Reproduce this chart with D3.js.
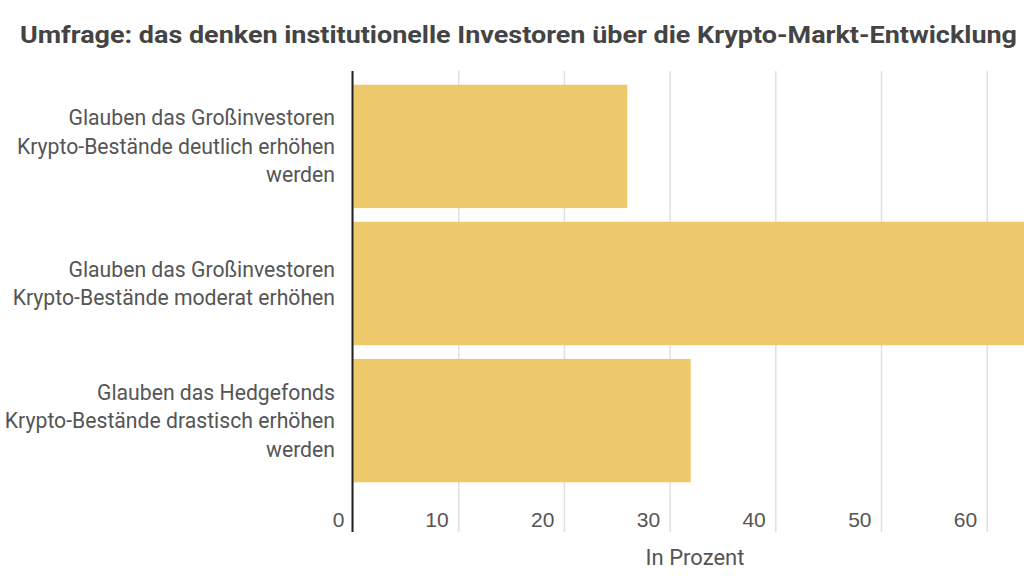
<!DOCTYPE html>
<html lang="de">
<head>
  <meta charset="UTF-8" />
  <title>Umfrage Krypto-Markt-Entwicklung</title>
  <script src="https://d3js.org/d3.v7.min.js"></script>
  <style>
    html, body {
      margin: 0;
      padding: 0;
      background: #fff;
      overflow: hidden;
    }
    svg {
      display: block;
      font-family: Roboto, "Noto Sans", sans-serif;
    }
    .title {
      font-size: 23.5px;
      font-weight: 700;
      fill: #444;
    }
    .cat-label {
      font-size: 21.2px;
      fill: #555;
    }
    .x-axis text {
      font-size: 21px;
      fill: #555;
    }
    .x-axis line {
      stroke: #e0e0e0;
      stroke-width: 1.5;
    }
    .axis-title {
      font-size: 22px;
      fill: #555;
    }
    .bar {
      fill: #edc96b;
    }
  </style>
</head>
<body>
  <svg width="1024" height="576"></svg>

  <script>
    // data
    const categories = [
      "Glauben das Großinvestoren\nKrypto-Bestände deutlich erhöhen\nwerden",
      "Glauben das Großinvestoren\nKrypto-Bestände moderat erhöhen",
      "Glauben das Hedgefonds\nKrypto-Bestände drastisch erhöhen\nwerden"
    ];
    const values = [26, 66, 32];
    const xTicks = [0, 10, 20, 30, 40, 50, 60];
    const titleText = "Umfrage: das denken institutionelle Investoren über die Krypto-Markt-Entwicklung";
    const xAxisTitle = "In Prozent";

    const svg = d3.select("svg");
    const plotTop = 71, plotBottom = 532, bandBottom = 496;
    const x0 = 352.5, pxPerUnit = 10.57;

    const x = d3.scaleLinear()
      .domain([0, 70])
      .range([x0, x0 + 70 * pxPerUnit]);

    const y = d3.scaleBand()
      .domain(categories)
      .range([plotTop, bandBottom])
      .paddingInner(0.1)
      .paddingOuter(0.1);

    // title
    svg.append("text")
      .attr("class", "title")
      .attr("x", 20)
      .attr("y", 43)
      .attr("textLength", 997)
      .attr("lengthAdjust", "spacingAndGlyphs")
      .text(titleText);

    // gridlines + tick labels
    const xAxis = d3.axisBottom(x)
      .tickValues(xTicks)
      .tickSize(-(plotBottom - plotTop))
      .tickSizeOuter(0)
      .tickFormat(d3.format("d"));

    const gx = svg.append("g")
      .attr("class", "x-axis")
      .attr("transform", `translate(0,${plotBottom})`)
      .call(xAxis);
    gx.select(".domain").remove();
    gx.selectAll(".tick text")
      .attr("text-anchor", "end")
      .attr("x", d => d === 0 ? -8.5 : -10)
      .attr("y", -5)
      .attr("dy", 0);

    // bars
    svg.selectAll(".bar")
      .data(values)
      .enter()
      .append("rect")
      .attr("class", "bar")
      .attr("x", x(0))
      .attr("y", (d, i) => y(categories[i]))
      .attr("width", d => x(d) - x(0))
      .attr("height", y.bandwidth());

    // zero line
    svg.append("line")
      .attr("x1", x(0)).attr("x2", x(0))
      .attr("y1", plotTop).attr("y2", plotBottom)
      .attr("stroke", "#222")
      .attr("stroke-width", 2);

    // category labels
    const lineH = 28.5;
    categories.forEach(c => {
      const lines = c.split("\n");
      const cy = y(c) + y.bandwidth() / 2;
      const t = svg.append("text")
        .attr("class", "cat-label")
        .attr("text-anchor", "end")
        .attr("x", 335);
      lines.forEach((ln, i) => {
        t.append("tspan")
          .attr("x", 335)
          .attr("y", cy + (i - (lines.length - 1) / 2) * lineH + 7.5)
          .text(ln);
      });
    });

    svg.append("text")
      .attr("class", "axis-title")
      .attr("text-anchor", "middle")
      .attr("x", 695)
      .attr("y", 565)
      .text(xAxisTitle);
  </script>
</body>
</html>
